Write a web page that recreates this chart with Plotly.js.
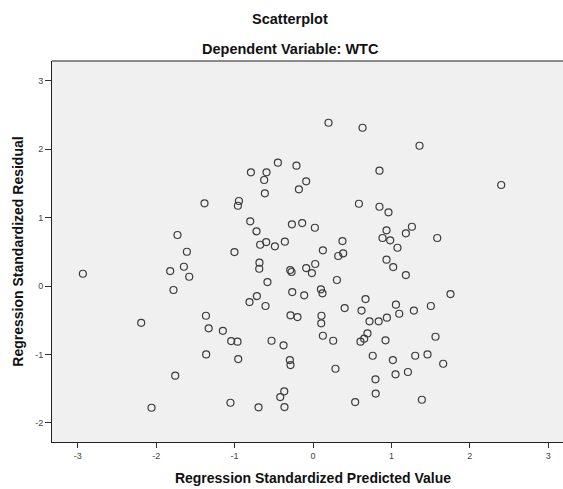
<!DOCTYPE html>
<html>
<head>
<meta charset="utf-8">
<script src="https://cdn.plot.ly/plotly-3.0.1.min.js"></script>
<style>
html,body{margin:0;padding:0;overflow:hidden;background:#fff;}
#chart{width:574px;height:489px;}
</style>
</head>
<body>
<div id="chart"></div>
<script>
// Regression standardized predicted values (x) and residuals (y)
const predicted = [
  0.198, 0.632, 1.359, 2.401, 0.848, -0.792, -0.593, -0.623, -0.448, -0.211,
  -0.087, -0.180, -1.384, -1.729, -1.609, -1.647, -1.822, -1.579, -1.780, -2.936,
  -0.614, -0.945, -0.958, 0.586, 0.848, -0.801, -0.721, -0.269, -0.138, 0.024,
  -0.674, -0.597, -0.486, -0.359, 0.376, 0.126, 0.322, 0.385, 0.887, -1.002,
  -0.683, -0.686, -0.291, -0.274, -0.087, 0.028, -0.014, 0.305, -0.581, -0.265,
  -0.112, 0.101, 0.121, -0.716, -0.810, -0.606, 0.670, 0.404, 0.619, 0.963,
  1.262, 1.185, 0.938, 0.985, 1.078, 1.585, 0.938, 1.023, 1.185, 1.754,
  1.058, 1.504, 1.287, -2.192, -1.366, -1.331, -1.363, -1.758, -2.060, -1.150,
  -1.044, -0.963, -0.954, -0.529, -0.376, -0.287, -0.198, 0.108, 0.105, 0.126,
  0.258, 0.721, 0.838, 0.695, 0.653, 0.606, 0.762, -0.295, -0.287, 0.287,
  0.797, 0.800, -0.367, -0.418, -1.053, -0.695, -0.364, 0.538, 0.943, 1.100,
  0.925, 1.563, 1.019, 1.304, 1.461, 1.661, 1.053, 1.211, 1.389
];
const residual = [
  2.387, 2.314, 2.051, 1.477, 1.686, 1.662, 1.662, 1.550, 1.803, 1.759,
  1.531, 1.414, 1.209, 0.746, 0.501, 0.282, 0.219, 0.136, -0.058, 0.180,
  1.355, 1.243, 1.174, 1.203, 1.159, 0.946, 0.800, 0.902, 0.921, 0.852,
  0.604, 0.643, 0.580, 0.648, 0.658, 0.522, 0.439, 0.478, 0.702, 0.497,
  0.341, 0.253, 0.234, 0.205, 0.263, 0.322, 0.190, 0.088, 0.058, -0.088,
  -0.136, -0.048, -0.107, -0.146, -0.234, -0.292, -0.190, -0.322, -0.358, 1.077,
  0.867, 0.770, 0.814, 0.668, 0.560, 0.702, 0.385, 0.278, 0.161, -0.117,
  -0.273, -0.292, -0.358, -0.537, -0.434, -0.618, -0.999, -1.311, -1.779, -0.654,
  -0.804, -0.814, -1.067, -0.800, -0.867, -0.428, -0.453, -0.434, -0.545, -0.727,
  -0.800, -0.516, -0.516, -0.692, -0.770, -0.814, -1.019, -1.082, -1.155, -1.209,
  -1.364, -1.572, -1.539, -1.623, -1.706, -1.773, -1.769, -1.696, -0.463, -0.405,
  -0.794, -0.741, -1.082, -1.019, -0.999, -1.136, -1.291, -1.257, -1.662
];
const xTicks = [-3, -2, -1, 0, 1, 2, 3];
const yTicks = [-2, -1, 0, 1, 2, 3];

const font = "Liberation Sans, Arial, sans-serif";

const trace = {
  type: 'scatter',
  mode: 'markers',
  x: predicted,
  y: residual,
  marker: {
    symbol: 'circle-open',
    size: 7,
    color: '#3c3c3c',
    line: {width: 1.2, color: '#3c3c3c'}
  },
  hoverinfo: 'x+y'
};

const layout = {
  width: 574,
  height: 489,
  margin: {l: 52, r: 0, t: 61, b: 47},
  paper_bgcolor: '#ffffff',
  plot_bgcolor: '#f0f0f0',
  showlegend: false,
  font: {family: font, size: 9, color: '#444'},
  xaxis: {
    range: [-3.33, 3.33],
    tickvals: xTicks,
    ticktext: xTicks.map(String),
    ticks: 'outside',
    ticklen: 5,
    tickwidth: 1,
    tickcolor: '#333',
    showgrid: false,
    zeroline: false,
    showline: true,
    linecolor: '#222',
    linewidth: 1,
    tickfont: {family: font, size: 9, color: '#444'},
    title: {text: 'Regression Standardized Predicted Value', font: {family: font, size: 14, color: '#111', weight: 'bold'}, standoff: 13}
  },
  yaxis: {
    range: [-2.28, 3.29],
    tickvals: yTicks,
    ticktext: yTicks.map(String),
    ticks: 'outside',
    ticklen: 6,
    tickwidth: 1,
    tickcolor: '#333',
    showgrid: false,
    zeroline: false,
    showline: true,
    linecolor: '#222',
    linewidth: 1,
    tickfont: {family: font, size: 9, color: '#444'},
    title: {text: 'Regression Standardized Residual', font: {family: font, size: 14, color: '#111', weight: 'bold'}, standoff: 8}
  },
  shapes: [{
    type: 'line', xref: 'paper', yref: 'paper', x0: 0, x1: 1, y0: 1, y1: 1,
    line: {color: '#8a8a8a', width: 2}
  }],
  annotations: [
    {text: '<b>Scatterplot</b>', xref: 'paper', yref: 'paper', x: (290 - 52) / 522, y: (442 - 19) / 381,
     xanchor: 'center', yanchor: 'middle', showarrow: false, font: {family: font, size: 14.5, color: '#111'}},
    {text: '<b>Dependent Variable: WTC</b>', xref: 'paper', yref: 'paper', x: (290 - 52) / 522, y: (442 - 49) / 381,
     xanchor: 'center', yanchor: 'middle', showarrow: false, font: {family: font, size: 14.5, color: '#111'}}
  ]
};

Plotly.newPlot('chart', [trace], layout, {displayModeBar: false, staticPlot: true});
</script>
</body>
</html>
